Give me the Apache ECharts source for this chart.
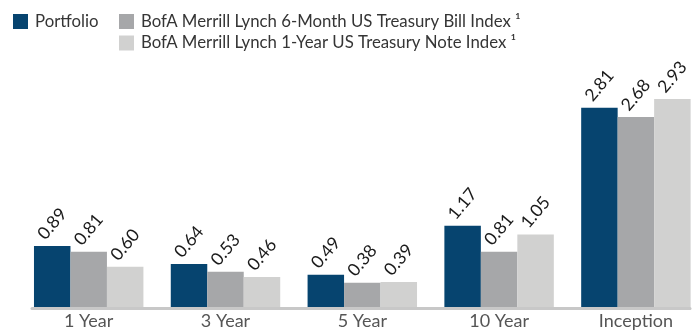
<!DOCTYPE html>
<html>
<head>
<meta charset="utf-8">
<style>
  html, body { margin: 0; padding: 0; background: #ffffff; }
  #chart { width: 696px; height: 331px; }
</style>
<script src="https://cdn.jsdelivr.net/npm/echarts@6/dist/echarts.min.js"></script>
</head>
<body>
<div id="chart"></div>
<script>
// Annualized returns (%) by period
const categories = ['1 Year', '3 Year', '5 Year', '10 Year', 'Inception'];
const seriesNames = [
  'Portfolio',
  'BofA Merrill Lynch 6-Month US Treasury Bill Index \u00b9',
  'BofA Merrill Lynch 1-Year US Treasury Note Index \u00b9'
];
const portfolio = [0.89, 0.64, 0.49, 1.17, 2.81];
const billIndex = [0.81, 0.53, 0.38, 0.81, 2.68];
const noteIndex = [0.60, 0.46, 0.39, 1.05, 2.93];

const colors = ['#06446F', '#A6A7A9', '#D1D1D0'];
const fontFamily = 'Lato, "Noto Sans", sans-serif';

const chart = echarts.init(document.getElementById('chart'));

function barSeries(name, data, color) {
  return {
    name: name,
    type: 'bar',
    xAxisIndex: 0,
    yAxisIndex: 0,
    data: data,
    barGap: '0%',
    barCategoryGap: '20%',
    itemStyle: { color: color },
    label: {
      show: true,
      position: 'top',
      distance: 22,
      rotate: 50,
      align: 'center',
      verticalAlign: 'middle',
      fontFamily: fontFamily,
      fontSize: 17.5,
      color: '#1a1a1a',
      formatter: p => p.value.toFixed(2)
    }
  };
}

const legendText = { fontSize: 16.8, color: '#353535', lineHeight: 16, padding: [0, 0, 0, 2] };

chart.setOption({
  animation: false,
  textStyle: { fontFamily: fontFamily },
  legend: [
    {
      data: [seriesNames[0]],
      left: 13, top: 13,
      itemWidth: 15, itemHeight: 15, itemGap: 5,
      icon: 'rect',
      textStyle: legendText,
      padding: 0
    },
    {
      data: [seriesNames[1], seriesNames[2]],
      orient: 'vertical',
      left: 119, top: 13,
      itemWidth: 15, itemHeight: 15, itemGap: 4.5,
      icon: 'rect',
      textStyle: legendText,
      padding: 0
    }
  ],
  grid: [
    // plotting area for the bars; baseline at the bottom edge
    { left: 20.3, width: 684, top: 94, bottom: 21, outerBoundsMode: 'none', containLabel: false },
    // narrower area that only carries the visible baseline
    { left: 32, right: 6, top: 94, bottom: 22.5, outerBoundsMode: 'none', containLabel: false }
  ],
  xAxis: [
    {
      type: 'category',
      gridIndex: 0,
      data: categories,
      axisLine: { show: false },
      axisTick: { show: false },
      axisLabel: {
        margin: 2,
        fontSize: 18,
        color: '#555555',
        fontFamily: fontFamily
      }
    },
    {
      type: 'category',
      gridIndex: 1,
      z: 5,
      data: categories,
      axisLine: { show: true, lineStyle: { color: '#C8C8C8', width: 3 } },
      axisTick: { show: false },
      axisLabel: { show: false }
    }
  ],
  yAxis: [
    {
      type: 'value', gridIndex: 0, min: 0, max: 3,
      show: false, splitLine: { show: false }
    },
    {
      type: 'value', gridIndex: 1, min: 0, max: 3,
      show: false, splitLine: { show: false }
    }
  ],
  series: [
    barSeries(seriesNames[0], portfolio, colors[0]),
    barSeries(seriesNames[1], billIndex, colors[1]),
    barSeries(seriesNames[2], noteIndex, colors[2])
  ]
});
</script>
</body>
</html>
